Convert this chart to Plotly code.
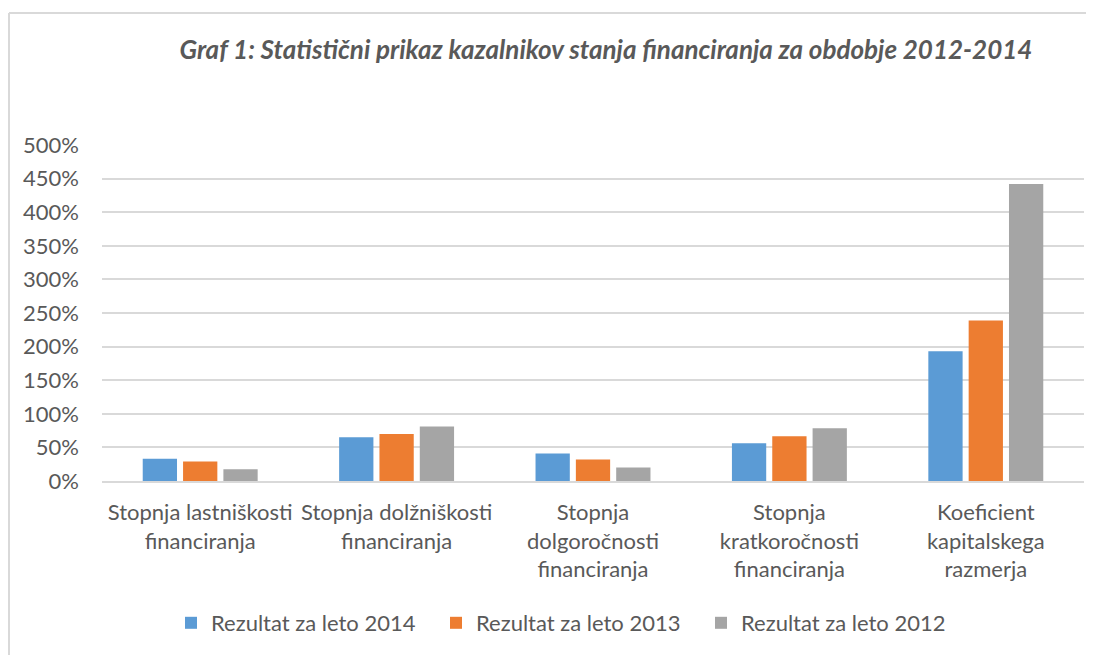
import plotly.graph_objects as go

categories = [
    "Stopnja lastniškosti<br>financiranja",
    "Stopnja dolžniškosti<br>financiranja",
    "Stopnja<br>dolgoročnosti<br>financiranja",
    "Stopnja<br>kratkoročnosti<br>financiranja",
    "Koeficient<br>kapitalskega<br>razmerja",
]
series_names = ["Rezultat za leto 2014", "Rezultat za leto 2013", "Rezultat za leto 2012"]
values_2014 = [0.33, 0.65, 0.41, 0.56, 1.93]
values_2013 = [0.29, 0.70, 0.32, 0.665, 2.39]
values_2012 = [0.175, 0.81, 0.20, 0.785, 4.42]
colors = ["#5B9BD5", "#ED7D31", "#A5A5A5"]
tick_vals = [0, 0.5, 1, 1.5, 2, 2.5, 3, 3.5, 4, 4.5, 5]

font_family = "Lato, 'Open Sans', sans-serif"
text_color = "#595959"

fig = go.Figure()
for name, vals, col in zip(series_names, [values_2014, values_2013, values_2012], colors):
    fig.add_trace(go.Bar(
        x=categories, y=vals, name=name,
        marker=dict(color=col, line=dict(width=0)),
        hoverinfo="y+name",
    ))

# page body has an 8px margin; compensate so target pixel positions line up
OFF = 8
W, H = 1094 - OFF, 655 - OFF
ml, mr, mt, mb = 102 - OFF, 18 - OFF, 145 - OFF, 174
pw, ph = W - ml - mr, H - mt - mb

def px_x(x):
    return (x - OFF - ml) / pw

def px_y(y):
    return (H - mb - (y - OFF)) / ph

fig.update_layout(
    width=W, height=H,
    margin=dict(l=ml, r=mr, t=mt, b=mb, autoexpand=False),
    paper_bgcolor="white", plot_bgcolor="white",
    barmode="group", bargap=0.384, bargroupgap=0.15,
    font=dict(family=font_family, color=text_color, size=22),
    title=dict(
        text="<b><i>Graf 1: Statistični prikaz kazalnikov stanja financiranja za obdobje 2012-2014</i></b>",
        x=px_x(606), xanchor="center", xref="paper",
        y=1 - (50 - OFF) / H, yanchor="middle",
        font=dict(size=26, color=text_color, family=font_family),
    ),
    xaxis=dict(showgrid=False, showline=True, linecolor="#D9D9D9", linewidth=1.5,
               ticks="", ticklabelstandoff=11, tickfont=dict(size=22, color=text_color)),
    yaxis=dict(range=[0, 5], tickvals=tick_vals, tickformat=".0%",
               showgrid=True, gridcolor="#D9D9D9", gridwidth=1.5,
               zeroline=False, showline=False, ticks="", ticklabelstandoff=22,
               tickfont=dict(size=22, color=text_color)),
    legend=dict(orientation="h", x=px_x(171), xanchor="left", y=px_y(623), yanchor="middle",
                font=dict(size=22, color=text_color), itemwidth=30, traceorder="normal",
                entrywidth=220, entrywidthmode="pixels"),
    showlegend=True,
    shapes=[
        dict(type="line", xref="paper", yref="paper", x0=px_x(9), x1=px_x(1094),
             y0=px_y(13), y1=px_y(13), line=dict(color="#D9D9D9", width=2)),
        dict(type="line", xref="paper", yref="paper", x0=px_x(9), x1=px_x(9),
             y0=px_y(13), y1=px_y(655), line=dict(color="#D9D9D9", width=2)),
    ],
)

fig.write_html("out.html")
